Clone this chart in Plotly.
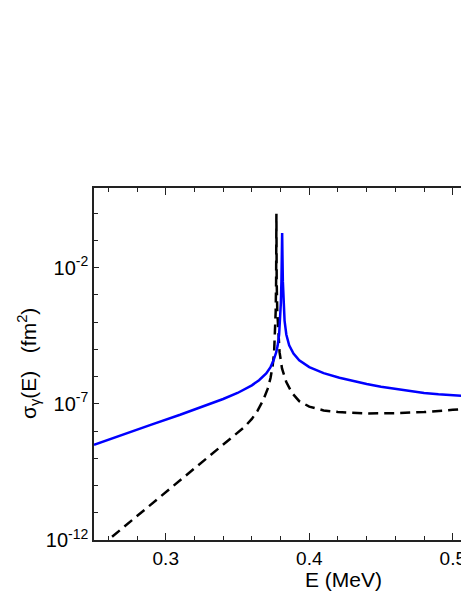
import numpy as np
import plotly.graph_objects as go

# Blue solid curve: energy (MeV) and log10(sigma)
e_blue = [0.250, 0.270, 0.290, 0.310, 0.330, 0.340, 0.350, 0.355, 0.360, 0.365,
          0.370, 0.373, 0.375, 0.377, 0.378, 0.379, 0.3797, 0.3802, 0.3806,
          0.3809, 0.3811, 0.3813, 0.3816, 0.3821, 0.3828, 0.384, 0.386, 0.389,
          0.393, 0.400, 0.410, 0.421, 0.430, 0.440, 0.450, 0.460, 0.470, 0.480,
          0.490, 0.500, 0.512]
log_blue = [-8.50, -8.12, -7.76, -7.40, -7.02, -6.82, -6.60, -6.47, -6.32, -6.13,
            -5.88, -5.65, -5.42, -5.10, -4.85, -4.45, -3.95, -3.30, -2.50,
            -1.50, -0.72, -1.50, -2.50, -3.30, -3.95, -4.45, -4.85, -5.15,
            -5.40, -5.65, -5.87, -6.04, -6.16, -6.27, -6.37, -6.45, -6.53, -6.60,
            -6.65, -6.69, -6.72]

# Black dashed curve
e_dash = [0.2626, 0.280, 0.300, 0.320, 0.340, 0.350, 0.355, 0.360, 0.364, 0.368,
          0.371, 0.373, 0.3745, 0.3755, 0.3762, 0.3766, 0.3769, 0.3771, 0.3773,
          0.3777, 0.3783, 0.3793, 0.381, 0.384, 0.388, 0.393, 0.400, 0.410,
          0.420, 0.440, 0.460, 0.480, 0.500, 0.512]
log_dash = [-11.88, -11.12, -10.26, -9.39, -8.52, -8.08, -7.84, -7.55, -7.25, -6.85,
            -6.45, -6.05, -5.60, -5.10, -4.40, -3.60, -2.50, -0.02, -2.50,
            -3.60, -4.40, -5.10, -5.70, -6.20, -6.60, -6.90, -7.10, -7.24,
            -7.30, -7.35, -7.34, -7.30, -7.22, -7.17]

y_ticks = [1e-12, 1e-7, 1e-2]
y_ticktext = ["10<sup>-12</sup>", "10<sup>-7</sup>", "10<sup>-2</sup>"]
y_minor = [10.0 ** k for k in range(-12, 1)]
x_ticks = [0.3, 0.4, 0.5]
x_ticktext = ["0.3", "0.4", "0.5"]
x_minor = [round(0.26 + 0.02 * i, 2) for i in range(13)]

font = "Liberation Sans, Arial, sans-serif"

# the page body adds an 8px margin, so the figure is shifted by that much
W, H = 461, 599
L, T, B = 86, 180, 67
pw = W - L
ph = H - T - B

fig = go.Figure()
fig.add_trace(go.Scatter(x=e_dash, y=10.0 ** np.array(log_dash), mode="lines",
                         line=dict(color="black", width=2.5, dash="10px,6px")))
fig.add_trace(go.Scatter(x=e_blue, y=10.0 ** np.array(log_blue), mode="lines",
                         line=dict(color="#0000ff", width=2.5)))

fig.update_layout(
    width=W, height=H,
    margin=dict(l=L, r=0, t=T, b=B),
    plot_bgcolor="white", paper_bgcolor="white",
    showlegend=False,
    font=dict(family=font, color="black"),
    xaxis=dict(range=[0.25, 0.5113], showgrid=False, zeroline=False,
               showline=True, linecolor="#222", linewidth=1.5, mirror="allticks",
               ticks="inside", ticklen=7, tickwidth=1.2, tickcolor="#222",
               tickvals=x_ticks, ticktext=x_ticktext, tickfont=dict(size=19)),
    yaxis=dict(type="log", range=[-12, 0.93], showgrid=False, zeroline=False,
               showline=True, linecolor="#222", linewidth=1.5, mirror=False,
               ticks="inside", ticklen=5, tickwidth=1.2, tickcolor="#222",
               tickvals=y_ticks, ticktext=y_ticktext, tickfont=dict(size=20)),
    annotations=[
        dict(text="E (MeV)", x=(335 - L) / pw, y=-(571 - (H - B)) / ph,
             xref="paper", yref="paper", xanchor="center", yanchor="middle",
             showarrow=False, font=dict(size=21)),
        dict(text="σ<sub>γ</sub>(E)   (fm<sup>2</sup>)", textangle=-90,
             x=-(L - 20) / pw, y=0.5, xref="paper", yref="paper",
             xanchor="center", yanchor="middle", showarrow=False,
             font=dict(size=21)),
    ],
)
fig.update_xaxes(minor=dict(tickvals=x_minor, ticks="inside", ticklen=4,
                            tickcolor="#222", tickwidth=1))
fig.update_yaxes(minor=dict(tickvals=y_minor, ticks="inside", ticklen=4,
                            tickcolor="#222", tickwidth=1))

fig.write_html("out.html")
